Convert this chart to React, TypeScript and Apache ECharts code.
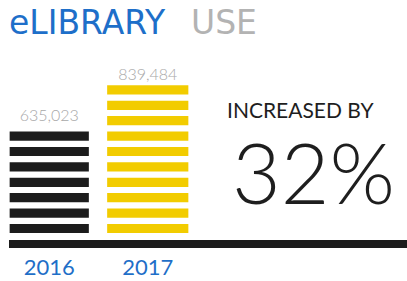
import React, { useEffect, useRef } from "react";
import * as echarts from "echarts";

const years = ["2016", "2017"];
const uses = [635023, 839484];
const stripes = [7, 10];
const stripeColors = ["#1c1c1c", "#f2cc00"];
const increaseLabel = "INCREASED BY";
const increaseValue = "32%";

export default function App() {
  const ref = useRef<HTMLDivElement>(null);

  useEffect(() => {
    const chart = echarts.init(ref.current!, null, { renderer: "svg" });
    const unit = 15.4;
    const yMax = 12;
    const zeroPx = 236.2;
    const H = 281;
    chart.setOption({
      animation: false,
      grid: { left: -1, width: 198, top: zeroPx - yMax * unit, bottom: H - zeroPx },
      xAxis: {
        type: "category",
        data: years,
        axisLine: { show: false },
        axisTick: { show: false },
        axisLabel: {
          interval: 0,
          hideOverlap: false,
          fontFamily: "Lato",
          fontSize: 22,
          lineHeight: 20,
          color: "#1f6fc8",
          margin: 20,
        },
      },
      yAxis: { type: "value", min: 0, max: yMax, show: false },
      series: [
        {
          type: "pictorialBar",
          symbol: "rect",
          symbolRepeat: true,
          symbolMargin: (unit * 1.001 - 9) / 2 + "!",
          data: stripes.map((s, i) => ({
            value: s,
            symbolSize: [i === 0 ? 79 : 81, 9],
            itemStyle: { color: stripeColors[i] },
            label: {
              show: true,
              position: "top",
              distance: i === 0 ? 6 : 1,
              formatter: uses[i].toLocaleString("en-US"),
              fontFamily: "Lato",
              fontWeight: 300,
              fontSize: 16,
              color: "#a8a8a8",
            },
          })),
        },
      ],
      graphic: [
        {
          type: "rect",
          shape: { x: 9, y: 240, width: 398, height: 8 },
          style: { fill: "#1c1c1c" },
        },
        {
          type: "text",
          x: 9,
          y: 22,
          style: {
            text: "eLIBRARY",
            font: "normal 33px 'DejaVu Sans'",
            fill: "#1e6fc9",
            textVerticalAlign: "middle",
          },
        },
        {
          type: "text",
          x: 191,
          y: 22,
          style: {
            text: "USE",
            font: "normal 33px 'DejaVu Sans'",
            fill: "#b3b3b3",
            textVerticalAlign: "middle",
          },
        },
        {
          type: "text",
          x: 227,
          y: 109,
          style: {
            text: increaseLabel,
            font: "normal 21px Lato",
            fill: "#1e1e1e",
            textVerticalAlign: "middle",
          },
        },
        {
          type: "text",
          x: 232,
          y: 171,
          style: {
            text: increaseValue,
            font: "300 84px Lato",
            lineHeight: 70,
            fill: "#1e1e1e",
            textVerticalAlign: "middle",
          },
        },
      ],
    });
    return () => chart.dispose();
  }, []);

  return (
    <div
      ref={ref}
      style={{ position: "fixed", left: 0, top: 0, width: 407, height: 281, background: "#fff" }}
    />
  );
}
